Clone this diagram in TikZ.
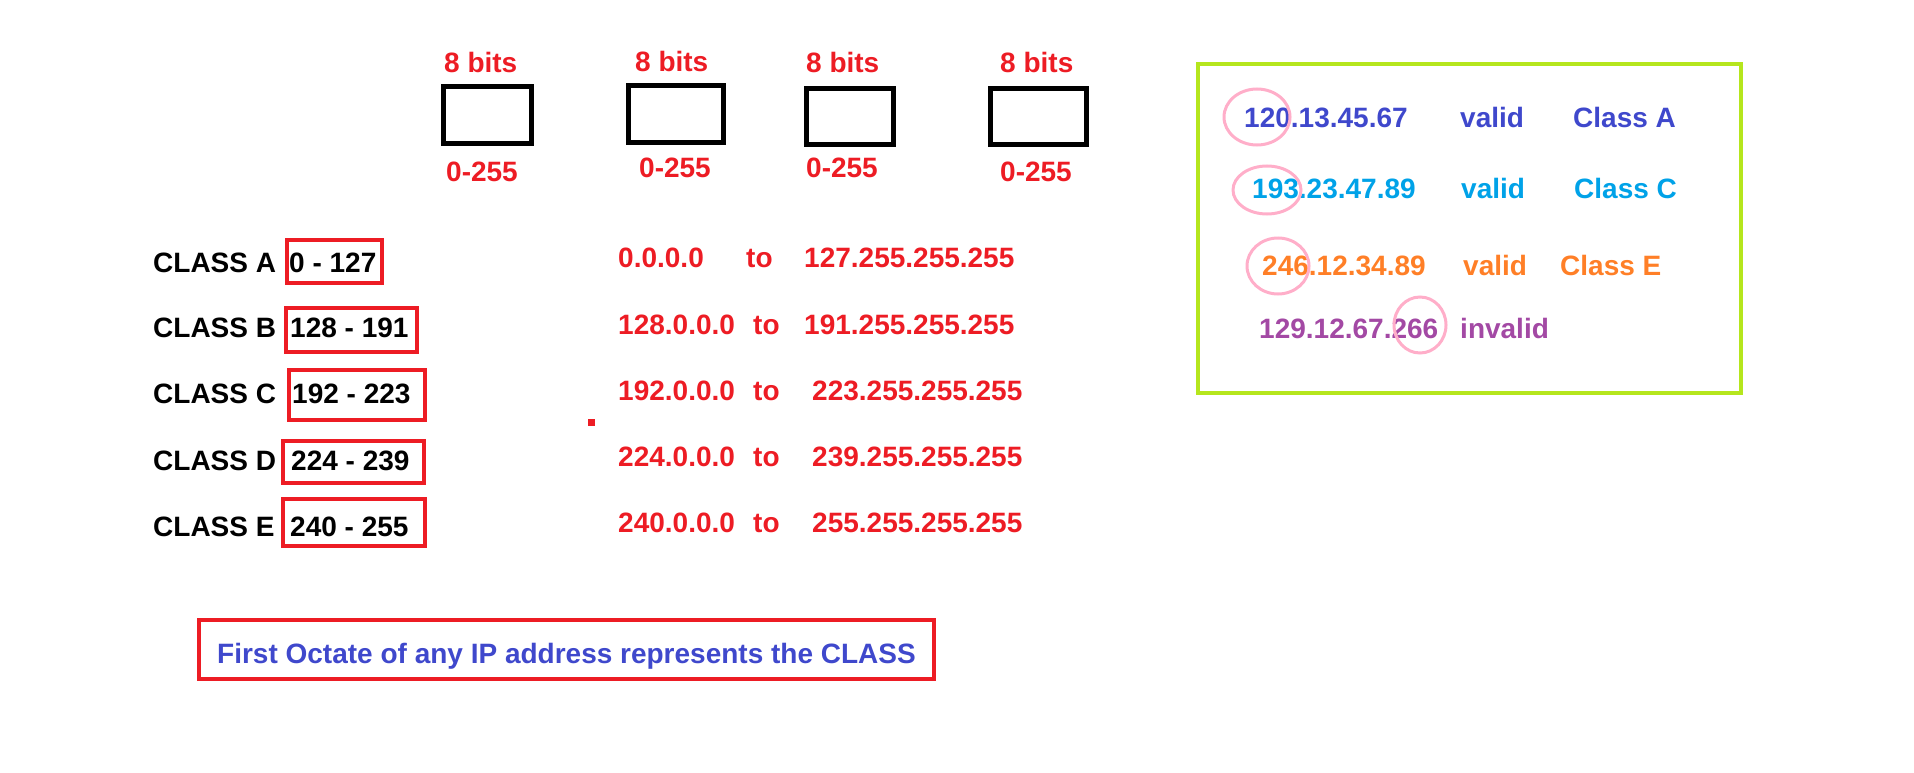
\documentclass[tikz,border=0pt]{standalone}
\usepackage{fontspec}
\setmainfont{Liberation Sans}
\usepackage{xcolor}
\definecolor{pred}{HTML}{ED1C24}
\definecolor{pindigo}{HTML}{3F48CC}
\definecolor{pturq}{HTML}{00A2E8}
\definecolor{porange}{HTML}{FF7F27}
\definecolor{ppurple}{HTML}{A349A4}
\definecolor{prose}{HTML}{FFAEC9}
\definecolor{plime}{HTML}{B5E61D}

\tikzset{
  txt/.style={inner sep=0pt, anchor=base west, font=\fontsize{28}{34}\selectfont\bfseries},
  octet/.style={draw=black, line width=5pt},
  redbox/.style={draw=pred, line width=4pt},
  mark circle/.style={draw=prose, line width=3pt}
}

\begin{document}
\begin{tikzpicture}[x=1pt, y=-1pt]
\useasboundingbox (0,0) rectangle (1914,773);

% Draw the four octet boxes
\draw[octet] (443.5,86.5) rectangle (531.5,143.5);
\draw[octet] (628.5,85.5) rectangle (723.5,142.5);
\draw[octet] (806.5,88.5) rectangle (893.5,144.5);
\draw[octet] (990.5,88.5) rectangle (1086.5,144.5);

% Labels above and below the octets
\node[txt, pred] (bits1) at (444,73) {8 bits};
\node[txt, pred] (bits2) at (635,72) {8 bits};
\node[txt, pred] (bits3) at (806,73) {8 bits};
\node[txt, pred] (bits4) at (1000,73) {8 bits};
\node[txt, pred] (rng1) at (446,182) {0-255};
\node[txt, pred] (rng2) at (639,178) {0-255};
\node[txt, pred] (rng3) at (806,178) {0-255};
\node[txt, pred] (rng4) at (1000,182) {0-255};

% Class names
\node[txt] (clA) at (153,272) {CLASS A};
\node[txt] (clB) at (153,337) {CLASS B};
\node[txt] (clC) at (153,403) {CLASS C};
\node[txt] (clD) at (153,470) {CLASS D};
\node[txt] (clE) at (153,536) {CLASS E};

% First octet ranges with red boxes
\draw[redbox] (287,240) rectangle (382,283);
\draw[redbox] (286,308) rectangle (417,352);
\draw[redbox] (289,370) rectangle (425,420);
\draw[redbox] (283,441) rectangle (424,483);
\draw[redbox] (283,499) rectangle (425,546);
\node[txt] (oA) at (289,272) {0 - 127};
\node[txt] (oB) at (290,337) {128 - 191};
\node[txt] (oC) at (292,403) {192 - 223};
\node[txt] (oD) at (291,470) {224 - 239};
\node[txt] (oE) at (290,536) {240 - 255};

% stray dot
\fill[pred] (588,419) rectangle (595,426);

% Address ranges
\node[txt, pred] (sA) at (618,267) {0.0.0.0};
\node[txt, pred] (tA) at (746,267) {to};
\node[txt, pred] (eA) at (804,267) {127.255.255.255};
\node[txt, pred] (sB) at (618,334) {128.0.0.0};
\node[txt, pred] (tB) at (753,334) {to};
\node[txt, pred] (eB) at (804,334) {191.255.255.255};
\node[txt, pred] (sC) at (618,400) {192.0.0.0};
\node[txt, pred] (tC) at (753,400) {to};
\node[txt, pred] (eC) at (812,400) {223.255.255.255};
\node[txt, pred] (sD) at (618,466) {224.0.0.0};
\node[txt, pred] (tD) at (753,466) {to};
\node[txt, pred] (eD) at (812,466) {239.255.255.255};
\node[txt, pred] (sE) at (618,532) {240.0.0.0};
\node[txt, pred] (tE) at (753,532) {to};
\node[txt, pred] (eE) at (812,532) {255.255.255.255};

% Note at the bottom
\draw[redbox] (199,620) rectangle (934,679);
\node[txt, pindigo] (note) at (217,663) {First Octate of any IP address represents the CLASS};

% Examples box
\draw[draw=plime, line width=4.5pt] (1198,64) rectangle (1741,393);
\node[txt, pindigo] (ex1) at (1244,128) {120.13.45.67};
\node[txt, pindigo] (ok1) at (1460,128) {valid};
\node[txt, pindigo] (cl1) at (1573,128) {Class A};
\node[txt, pturq] (ex2) at (1252,198) {193.23.47.89};
\node[txt, pturq] (ok2) at (1461,198) {valid};
\node[txt, pturq] (cl2) at (1574,198) {Class C};
\node[txt, porange] (ex3) at (1262,275) {246.12.34.89};
\node[txt, porange] (ok3) at (1463,275) {valid};
\node[txt, porange] (cl3) at (1560,275) {Class E};
\node[txt, ppurple] (ex4) at (1259,338) {129.12.67.266};
\node[txt, ppurple] (bad4) at (1460,338) {invalid};

% Circles round the octets that matter
\draw[mark circle] (1257,117) ellipse [x radius=33, y radius=28];
\draw[mark circle] (1267,190) ellipse [x radius=34, y radius=24];
\draw[mark circle] (1278,266) ellipse [x radius=31, y radius=28];
\draw[mark circle] (1420,325) ellipse [x radius=26, y radius=28];
\end{tikzpicture}
\end{document}
